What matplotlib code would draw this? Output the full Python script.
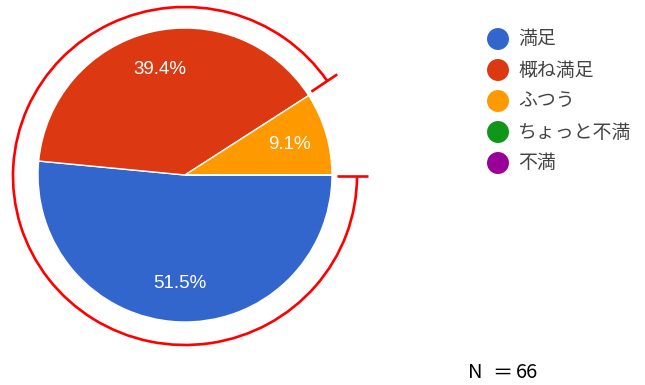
import numpy as np
import matplotlib
matplotlib.use("Agg")
import matplotlib.pyplot as plt
from matplotlib.patches import Arc

# Survey responses (N = 66)
categories = ["満足", "概ね満足", "ふつう", "ちょっと不満", "不満"]
counts = [34, 26, 6, 0, 0]
colors = ["#3366CC", "#DC3912", "#FF9900", "#109618", "#990099"]

W, H = 645, 385
fig = plt.figure(figsize=(W / 100, H / 100), dpi=100)
ax = fig.add_axes([0, 0, 1, 1])

cx, cy, r = 185, 210, 147
total = sum(counts)


def pct_label(p):
    return f"{p:.1f}%" if p > 0.5 else ""


wedges, _, autotexts = ax.pie(
    counts, colors=colors, startangle=0, counterclock=False,
    center=(cx, cy), radius=r, autopct=pct_label, pctdistance=0.74,
    wedgeprops=dict(edgecolor="white", linewidth=1.0),
    textprops=dict(color="white", fontsize=13.5, family="Liberation Sans"),
    frame=True,
)
ax.set_xlim(0, W)
ax.set_ylim(0, H)
ax.set_aspect("equal")
ax.axis("off")

# Red highlight ring around the pie, open over the ふつう slice
gap_end = 360 * counts[2] / total + 1.0
R = 171
ax.add_patch(Arc((cx, cy - 1), 2 * R + 2, 2 * R - 4, theta1=gap_end, theta2=360,
                 color="#FF0000", lw=1.9))
for ang in (0.0, gap_end):
    a = np.deg2rad(ang)
    r0, r1 = 152, 183
    ax.plot([cx + r0 * np.cos(a), cx + r1 * np.cos(a)],
            [cy - 1 + r0 * np.sin(a), cy - 1 + r1 * np.sin(a)],
            color="#FF0000", lw=1.9, solid_capstyle="butt")

# Legend with round markers
cjk = ["Noto Sans CJK JP", "DejaVu Sans"]
leg_x, leg_y0, leg_dy = 498, H - 39, 31.0
for i, (lab, col) in enumerate(zip(categories, colors)):
    y = leg_y0 - i * leg_dy
    ax.scatter([leg_x], [y], s=250, color=col, edgecolors="none", zorder=5)
    ax.text(leg_x + 20, y, lab, fontsize=13.6, color="#444444",
            family=cjk, va="center", ha="left")

# Sample size note
ny = H - 373
ax.text(468, ny, "N", fontsize=14.5, color="black", family=cjk, va="center", ha="left")
ax.text(502, ny, "＝", fontsize=14.5, color="black", family=cjk, va="center", ha="center")
ax.text(516, ny, f"{total}", fontsize=14.5, color="black", family=cjk, va="center", ha="left")

fig.savefig("out.png", dpi=100)
